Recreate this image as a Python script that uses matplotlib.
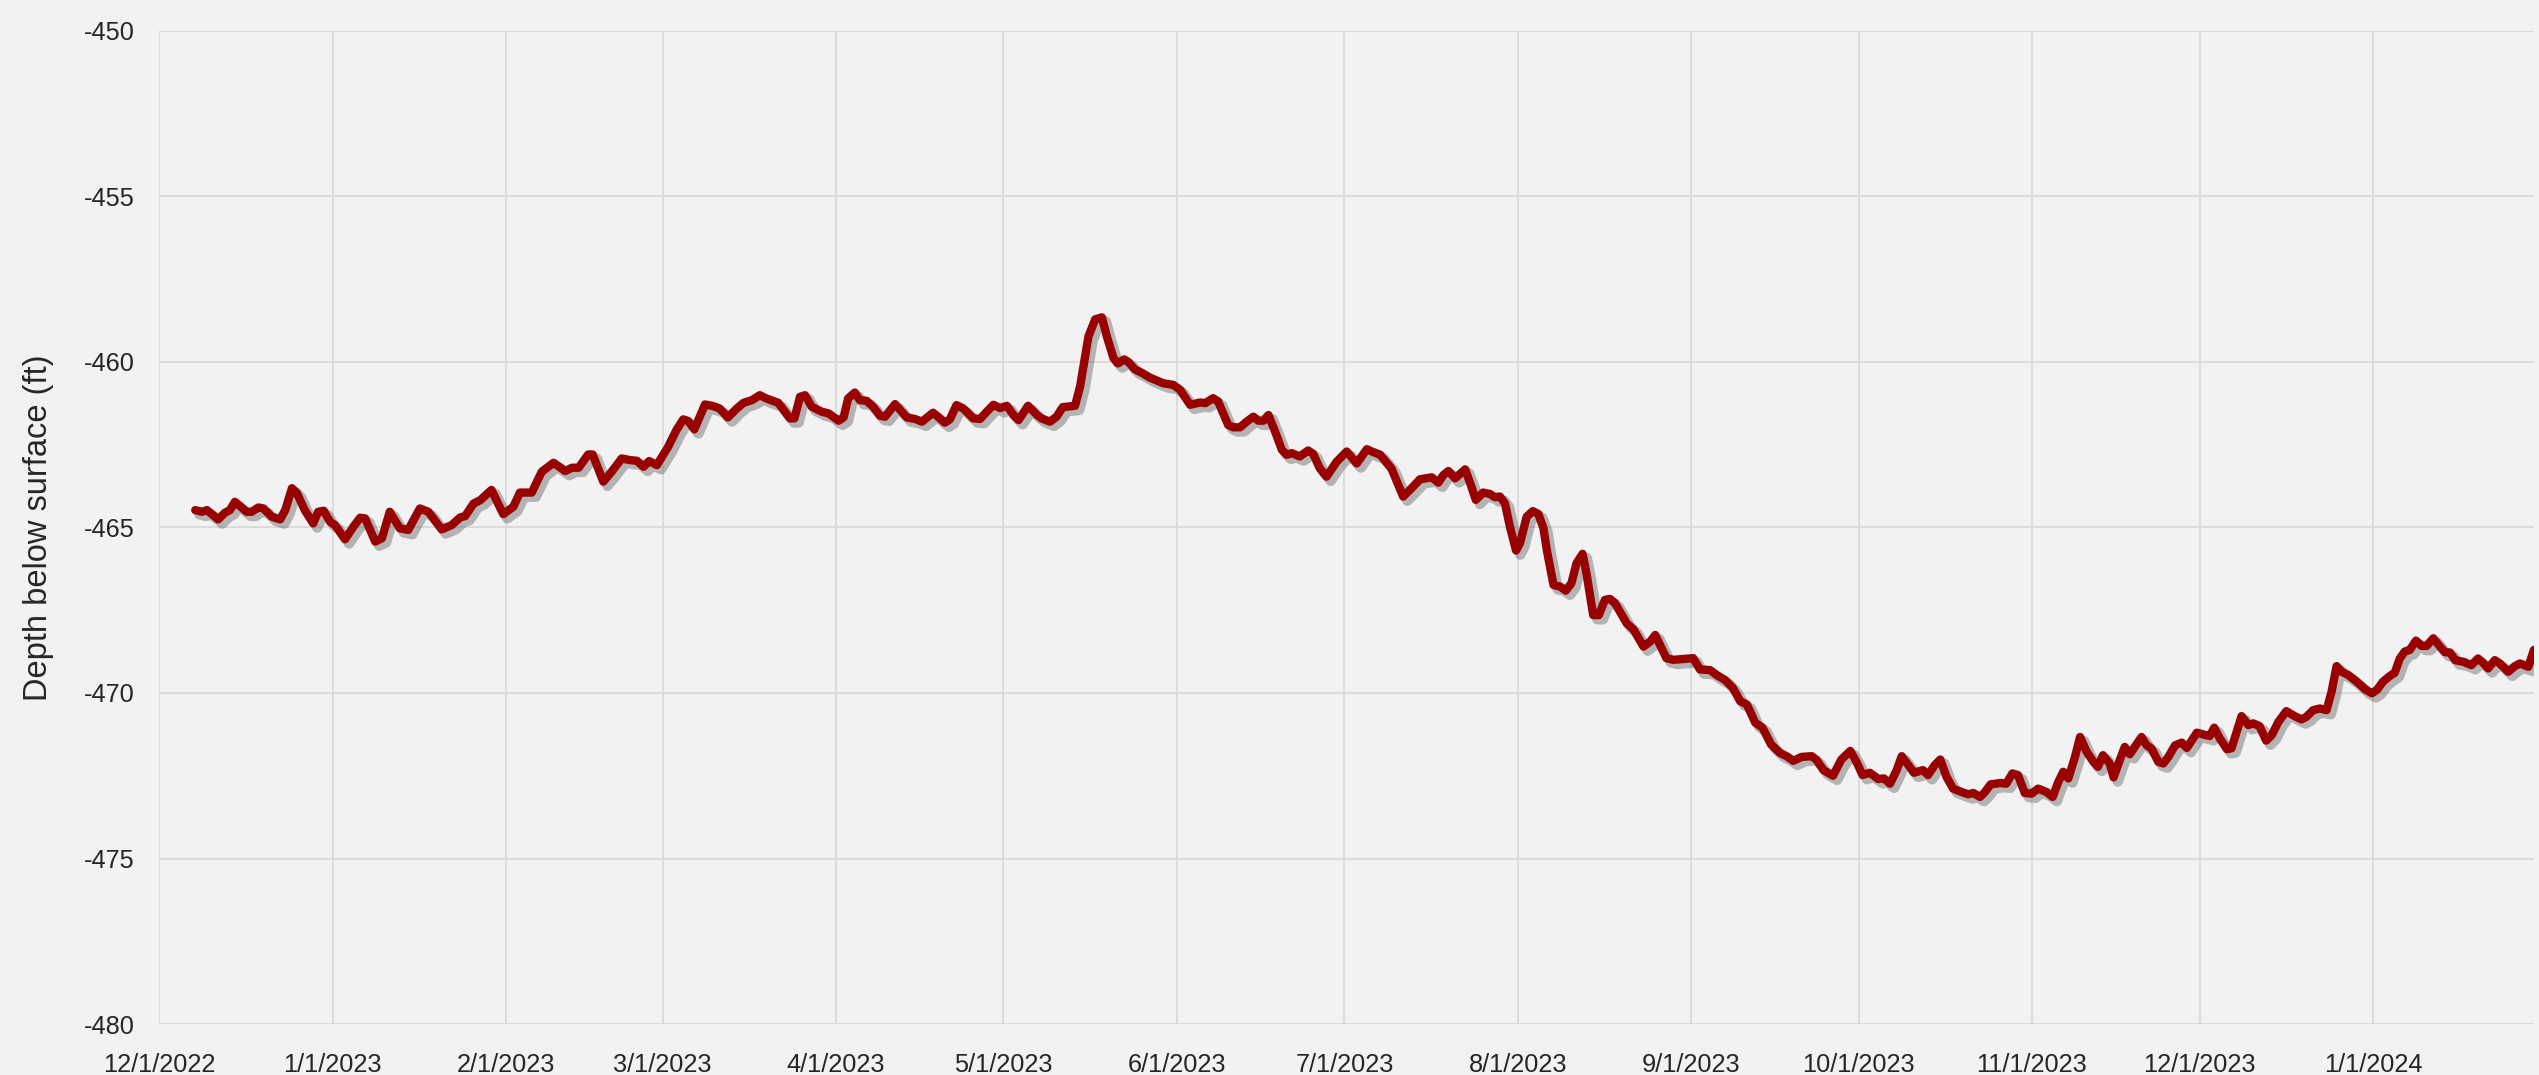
import matplotlib
matplotlib.use("Agg")
import matplotlib.pyplot as plt
import matplotlib.patheffects as pe
import pandas as pd

start_date = "2022-12-01"

# days after start_date
days = [
    6.4, 7.6, 8.5, 10.5, 11.7, 12.6, 13.5, 15.6, 16.5, 17.7, 18.6, 20.1, 21.6, 22.5, 23.7, 24.6,
    26.0, 27.5, 28.4, 29.4, 30.5, 31.4, 33.2, 34.7, 35.9, 36.8, 38.6, 39.8, 41.2, 43.0, 44.5,
    46.6, 48.1, 50.5, 52.3, 53.8, 54.7, 56.2, 57.4, 59.4, 61.5, 63.3, 64.5, 66.6, 68.4, 70.5,
    72.6, 73.8, 75.0, 76.7, 77.5,
    79.4, 80.9, 82.7, 84.2, 85.4, 86.6, 87.6, 89.0, 91.0, 92.5, 93.7, 94.6, 95.7, 97.6, 99.1,
    100.2, 101.7, 103.3, 104.5, 106.0, 107.4, 108.6, 110.7, 112.8, 113.6, 114.6, 115.5, 116.7,
    118.5, 119.7, 121.5, 122.4, 123.2, 124.4, 125.3, 126.5, 127.7, 128.9, 129.8, 131.6, 133.7,
    135.2, 136.4, 138.4, 140.5, 141.4, 142.6, 143.8, 145.6, 146.8,
    148.0, 149.2, 150.4, 151.6, 152.8, 153.7, 155.4, 157.0, 157.8, 159.3, 160.5, 161.6, 163.8,
    164.7, 166.2, 167.4, 168.6, 169.5, 170.7, 171.5, 172.6, 173.3, 174.5, 175.7, 177.2, 179.6,
    181.4, 182.6, 184.4, 186.2, 187.1, 188.5, 189.4, 191.2, 192.1, 193.3, 194.5, 195.7, 196.6,
    197.5, 198.4, 199.6, 200.8, 201.7, 202.6, 204.0, 205.5, 206.4, 207.6, 208.8, 210.6, 212.4,
    214.2, 216.0, 216.9, 218.4,
    220.4, 222.5, 224.0, 225.5, 227.6, 228.8, 229.7, 230.6, 231.8, 233.6, 234.5, 235.5, 236.8,
    238.0, 238.9, 239.8, 240.7, 241.6, 242.7, 243.4, 244.6, 245.7, 246.7, 247.6, 248.2, 249.4,
    250.6, 251.6, 252.6, 253.5, 254.6, 255.3, 256.5, 257.5, 258.6, 259.5, 260.4, 261.3, 262.5,
    263.7, 265.5, 266.7, 267.6, 269.6, 270.8, 272.3, 274.4, 275.6, 277.4, 278.6, 280.1,
    281.5, 282.8, 284.0, 285.5, 286.8, 288.3,
    289.9, 291.1, 292.3, 293.8, 295.6, 296.5, 297.7, 299.4, 300.9, 302.5, 303.6, 304.7, 306.0,
    307.5, 308.5, 309.6, 310.8, 311.7, 312.9, 313.9, 315.5, 316.4, 317.6, 318.6, 319.7, 320.9,
    322.4, 323.6, 324.5, 325.7, 326.6, 327.6, 329.3, 330.4, 331.5, 332.5, 333.7, 334.9, 336.1,
    337.6, 338.7, 339.7, 340.6, 341.5, 342.7, 343.6, 344.8, 346.0, 346.8, 347.7, 348.9, 349.6,
    350.7, 351.6, 352.5, 354.6, 355.5, 356.4, 357.6, 358.5, 359.4, 360.6, 361.8, 362.7,
    364.5, 366.0, 366.8, 367.6, 368.6, 369.9, 370.7, 372.5, 373.7, 374.6, 375.7, 376.9, 377.9,
    379.1, 380.5, 382.0, 383.2, 384.1, 385.3, 386.5, 387.7, 388.6, 389.5, 390.4, 391.6, 393.1,
    394.6, 395.8, 396.7, 397.8, 399.0, 399.9, 400.8, 401.7, 402.6, 403.7, 404.7, 405.6, 406.8,
    408.0, 408.9, 409.8, 410.7, 412.2, 413.6, 414.8, 415.7, 416.6, 417.8, 418.7, 420.2, 421.4,
    422.3, 423.8, 424.8,
]

depth_ft = [
    -464.48, -464.53, -464.48, -464.76, -464.56, -464.48, -464.23, -464.53, -464.53, -464.40,
    -464.43, -464.68, -464.76, -464.48, -463.82, -463.97, -464.48, -464.88, -464.53, -464.50,
    -464.83, -464.93, -465.36, -464.98, -464.71, -464.73, -465.43, -465.33, -464.53, -465.03,
    -465.08, -464.43, -464.53, -465.06, -464.93, -464.70, -464.66, -464.28, -464.18, -463.87,
    -464.60, -464.38, -463.95, -463.95, -463.32, -463.05, -463.30, -463.20, -463.20, -462.80,
    -462.80,
    -463.62, -463.32, -462.92, -462.97, -462.99, -463.17, -463.00, -463.12, -462.57, -462.06,
    -461.74, -461.79, -462.04, -461.29, -461.34, -461.41, -461.68, -461.41, -461.24, -461.16,
    -461.01, -461.11, -461.24, -461.71, -461.71, -461.06, -461.01, -461.36, -461.51, -461.56,
    -461.78, -461.68, -461.11, -460.93, -461.16, -461.18, -461.36, -461.63, -461.66, -461.28,
    -461.68, -461.73, -461.81, -461.54, -461.84, -461.74, -461.31, -461.41, -461.71, -461.73,
    -461.51, -461.30, -461.40, -461.33, -461.61, -461.76, -461.33, -461.61, -461.71, -461.81,
    -461.66, -461.37, -461.33, -460.75, -459.24, -458.72, -458.66, -459.24, -459.90, -460.05,
    -459.93, -460.00, -460.23, -460.33, -460.48, -460.65, -460.70, -460.85, -461.30, -461.23,
    -461.25, -461.10, -461.20, -461.91, -461.98, -461.98, -461.81, -461.66, -461.78, -461.78,
    -461.61, -462.11, -462.66, -462.81, -462.76, -462.86, -462.68, -462.78, -463.22, -463.47,
    -463.02, -462.71, -463.07, -462.64, -462.71, -462.81,
    -463.22, -464.07, -463.82, -463.55, -463.49, -463.65, -463.42, -463.30, -463.52, -463.25,
    -463.67, -464.17, -463.95, -463.99, -464.09, -464.07, -464.27, -464.98, -465.70, -465.48,
    -464.68, -464.51, -464.60, -465.03, -465.68, -466.74, -466.79, -466.91, -466.69, -466.09,
    -465.80, -466.39, -467.65, -467.65, -467.19, -467.16, -467.29, -467.55, -467.90, -468.08,
    -468.60, -468.45, -468.25, -468.95, -469.00, -468.98, -468.95, -469.29, -469.31, -469.46,
    -469.61,
    -469.85, -470.25, -470.35, -470.90, -471.05, -471.55,
    -471.81, -471.91, -472.05, -471.93, -471.91, -472.03, -472.33, -472.50, -472.01, -471.75,
    -472.08, -472.48, -472.41, -472.60, -472.58, -472.74, -472.33, -471.91, -472.18, -472.41,
    -472.33, -472.48, -472.18, -472.01, -472.53, -472.89, -472.99, -473.06, -473.02, -473.14,
    -472.99, -472.76, -472.72, -472.74, -472.43, -472.48, -473.02, -473.04, -472.89, -472.99,
    -473.14, -472.69, -472.38, -472.58, -471.93, -471.33, -471.78, -472.08, -472.23, -471.88,
    -472.13, -472.55, -472.03, -471.63, -471.85, -471.33, -471.58, -471.68, -472.08, -472.13,
    -471.93, -471.58, -471.50, -471.66,
    -471.20, -471.27, -471.30, -471.05, -471.37, -471.70, -471.67, -470.70, -470.97, -470.92,
    -471.00, -471.44, -471.27, -470.87, -470.55, -470.70, -470.80, -470.72, -470.52, -470.47,
    -470.52, -469.96, -469.19, -469.36, -469.46, -469.66, -469.89, -470.01, -469.91, -469.66,
    -469.49, -469.39, -468.96, -468.75, -468.70, -468.42, -468.58, -468.58, -468.35, -468.60,
    -468.77, -468.78, -469.01, -469.06, -469.16, -468.96, -469.09, -469.26, -469.01, -469.11,
    -469.36, -469.19, -469.11, -469.21, -468.70,
]

tick_dates = ["2022-12-01", "2023-01-01", "2023-02-01", "2023-03-01", "2023-04-01",
              "2023-05-01", "2023-06-01", "2023-07-01", "2023-08-01", "2023-09-01",
              "2023-10-01", "2023-11-01", "2023-12-01", "2024-01-01"]
y_ticks = [-480, -475, -470, -465, -460, -455, -450]
y_label = "Depth below surface (ft)"

plt.rcParams["font.family"] = ["Liberation Sans", "DejaVu Sans"]
plt.rcParams["axes.unicode_minus"] = False

t0 = pd.Timestamp(start_date)
x = [t0 + pd.Timedelta(days=d) for d in days]
ticks = pd.to_datetime(tick_dates)

bg = "#f2f2f2"
txt = "#262626"
fig = plt.figure(figsize=(25.39, 10.75), dpi=100, facecolor=bg)
ax = fig.add_axes([0.0628, 0.0473, 0.9352, 0.9243], facecolor=bg)

ax.plot(x, depth_ft, color="#990000", lw=6.0, solid_joinstyle="round",
        solid_capstyle="round", zorder=3,
        path_effects=[pe.SimpleLineShadow(offset=(3, -3), shadow_color="#555555",
                                          alpha=0.4, linewidth=7.5),
                      pe.Normal()])

ax.set_xlim(t0, t0 + pd.Timedelta(days=days[-1]))
ax.set_ylim(y_ticks[0], y_ticks[-1])
ax.set_yticks(y_ticks)
ax.set_xticks(ticks)
ax.set_xticklabels([f"{t.month}/{t.day}/{t.year}" for t in ticks])

ax.grid(True, color="#d9d9d9", lw=1.3, zorder=0)
ax.set_axisbelow(True)
for s in ax.spines.values():
    s.set_visible(False)
ax.tick_params(axis="both", length=0, labelsize=18.3, colors=txt)
ax.tick_params(axis="y", pad=18)
ax.tick_params(axis="x", pad=21)
ax.set_ylabel(y_label, fontsize=23.5, color=txt)
ax.yaxis.set_label_coords(-0.0445, 0.5)

fig.savefig("out.png", dpi=100, facecolor=bg)
